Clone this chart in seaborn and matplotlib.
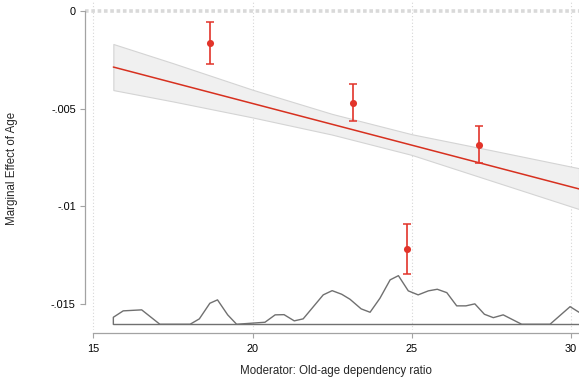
import pandas as pd
import matplotlib
matplotlib.use("Agg")
import matplotlib.pyplot as plt
import seaborn as sns

# fitted marginal effect line (end points)
fit_x = [15.63, 30.25]
fit_y = [-0.00287, -0.00911]

# confidence band, read at a few moderator values
band_x = [15.63, 17.5, 20.0, 22.5, 25.0, 27.5, 30.25]
band_hi = [-0.00169, -0.00267, -0.00403, -0.00527, -0.00631, -0.00713, -0.00805]
band_lo = [-0.00405, -0.00463, -0.00545, -0.00633, -0.00737, -0.00869, -0.01014]

# binned estimates with intervals
bin_x = [18.66, 23.15, 24.84, 27.12]
bin_y = [-0.00166, -0.00469, -0.01219, -0.00686]
bin_hi = [-0.00058, -0.00376, -0.01089, -0.00590]
bin_lo = [-0.00273, -0.00565, -0.01348, -0.00780]

# density of the moderator (relative heights)
dens_x = [15.63, 15.63, 15.94, 16.52, 17.09, 18.04, 18.33, 18.66, 18.90, 19.22,
          19.50, 20.39, 20.71, 20.99, 21.31, 21.59, 22.22, 22.50, 22.80, 23.06,
          23.41, 23.69, 24.00, 24.32, 24.58, 24.89, 25.20, 25.52, 25.80, 26.10,
          26.41, 26.70, 26.98, 27.28, 27.56, 27.87, 28.45, 29.34, 29.97, 30.25]
dens = [0.0, 0.035, 0.067, 0.072, 0.0, 0.0, 0.027, 0.105, 0.122, 0.047,
        0.0, 0.010, 0.047, 0.048, 0.017, 0.027, 0.147, 0.168, 0.150, 0.125,
        0.077, 0.060, 0.130, 0.222, 0.243, 0.167, 0.147, 0.167, 0.175, 0.158,
        0.092, 0.092, 0.102, 0.050, 0.033, 0.047, 0.0, 0.0, 0.088, 0.060]

x_ticks = [15, 20, 25, 30]
y_ticks = [-0.015, -0.01, -0.005, 0]
y_ticklabels = ["-.015", "-.01", "-.005", "0"]

sns.set_theme(style="white")
plt.rcParams["font.family"] = ["Liberation Sans", "DejaVu Sans"]

fig = plt.figure(figsize=(5.79, 3.79), dpi=100)
ax = fig.add_axes([85 / 579, 49 / 379, 494 / 579, 330 / 379])

red = "#e2342a"
gray = "#a3a3a3"

# grid and zero line
for xt in x_ticks:
    ax.axvline(xt, color="#d6d6d6", lw=0.8, ls=(0, (1, 2)), zorder=0)
ax.axhline(0, color="#d9d9d9", lw=2.6, ls=(0, (1.0, 0.75)), zorder=0)

# band and fitted line
ax.fill_between(band_x, band_lo, band_hi, facecolor="#f0f0f0",
                edgecolor="#d4d4d4", lw=0.8, zorder=1)
fit = pd.DataFrame({"x": fit_x, "y": fit_y})
sns.lineplot(data=fit, x="x", y="y", color="#d7301f", lw=1.1, ax=ax, zorder=2)

# density of the moderator at the bottom
base = -0.01604
scale = 0.01024
dd = pd.DataFrame({"x": dens_x, "y": [base + d * scale for d in dens]})
ax.plot([dens_x[0], dens_x[-1]], [base, base], color="#707070", lw=1.0, zorder=2)
sns.lineplot(data=dd, x="x", y="y", estimator=None, sort=False,
             color="#707070", lw=1.0, ax=ax, zorder=2)

# binned estimates
yerr = [[y - l for y, l in zip(bin_y, bin_lo)], [h - y for y, h in zip(bin_y, bin_hi)]]
ax.errorbar(bin_x, bin_y, yerr=yerr, fmt="none", ecolor=red, elinewidth=1.2,
            capsize=2.6, capthick=1.1, zorder=3)
pts = pd.DataFrame({"x": bin_x, "y": bin_y})
sns.scatterplot(data=pts, x="x", y="y", color=red, s=26, edgecolor=red,
                linewidth=0, ax=ax, zorder=4)

ax.set_xlim(14.74, 30.25)
ax.set_ylim(-0.016334, 0.000563)

ax.set_xticks(x_ticks)
ax.set_xticklabels([str(t) for t in x_ticks])
ax.set_yticks(y_ticks)
ax.set_yticklabels(y_ticklabels)

for s in ["top", "right"]:
    ax.spines[s].set_visible(False)
ax.spines["left"].set_bounds(-0.015, 0)
ax.spines["bottom"].set_bounds(15, 30.25)
ax.spines["bottom"].set_position(("outward", 2.3))
for s in ["left", "bottom"]:
    ax.spines[s].set_color(gray)
    ax.spines[s].set_linewidth(0.9)

ax.tick_params(axis="both", which="major", length=3.6, width=0.8, color=gray,
               labelsize=7.8, labelcolor="black")
ax.tick_params(axis="x", pad=4, bottom=True)
ax.tick_params(axis="y", pad=3, left=True)

ax.set_xlabel("Moderator: Old-age dependency ratio", fontsize=8.3)
ax.set_ylabel("Marginal Effect of Age", fontsize=8.3)
ax.xaxis.set_label_coords(0.508, -0.106)
ax.yaxis.set_label_coords(-0.136, 0.49)

fig.savefig("out.png", dpi=100)
